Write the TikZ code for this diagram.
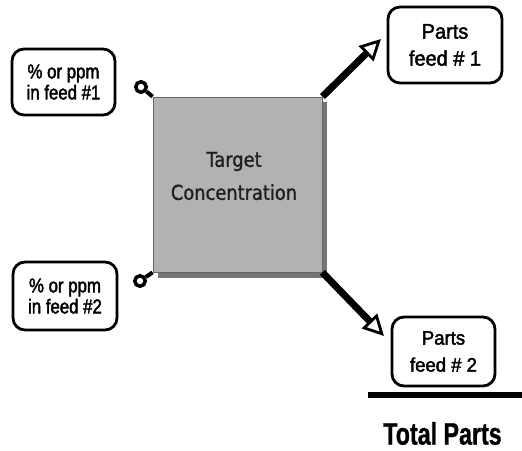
\documentclass[tikz,border=0pt]{standalone}
\usepackage{fontspec}
\setmainfont{Liberation Sans}
\newfontfamily\boxfont[FakeStretch=0.84,FakeBold=2]{Liberation Sans}
\newfontfamily\partsfont[FakeStretch=0.95,FakeBold=2]{Liberation Sans}
\newfontfamily\totalfont[FakeStretch=0.75,FakeBold=1]{Liberation Sans Bold}
\newfontfamily\handfont[FakeStretch=0.87,FakeBold=1]{DejaVu Sans}
\usetikzlibrary{arrows.meta}
\definecolor{sqfill}{RGB}{178,178,178}
\definecolor{sqshadow}{RGB}{118,118,118}
\definecolor{handtext}{RGB}{30,30,30}
\tikzset{
  labelbox/.style={draw=black, line width=2.8pt, rounded corners=12pt, fill=white,
    inner sep=0pt, align=center},
  flowarrow/.style={line width=7pt,
    -{Triangle[line width=2.8pt, fill=white, length=21pt, width=21pt]}},
  pin/.style={circle, draw=black, line width=3.5pt, fill=white, inner sep=0pt,
    minimum size=10.5pt},
  pinline/.style={line width=4pt},
}
\begin{document}
\begin{tikzpicture}[x=1pt,y=-1pt]
\useasboundingbox (0,0) rectangle (522,450);
% shadow and square
\fill[sqshadow] (158,102) rectangle (327,278);
\node[draw=black!60, line width=0.8pt, fill=sqfill, minimum width=169pt, minimum height=175pt,
  inner sep=0pt] (sq) at (237.5,184.5) {};
\node[font=\handfont\fontsize{20.5}{33}\selectfont, text=handtext, align=center] (tc)
  at (234,176) {Target\\Concentration};
% input boxes
\node[labelbox, minimum width=103pt, minimum height=66pt,
  font=\boxfont\fontsize{20}{21}\selectfont] (in1) at (63.5,82) {\% or ppm\\in feed \#1};
\node[labelbox, minimum width=104pt, minimum height=68pt,
  font=\boxfont\fontsize{20}{21}\selectfont] (in2) at (65,296) {\% or ppm\\in feed \#2};
% output boxes
\node[labelbox, minimum width=114pt, minimum height=76pt,
  font=\partsfont\fontsize{21}{27}\selectfont] (pf1) at (445,45) {Parts\\feed \# 1};
\node[labelbox, minimum width=103pt, minimum height=69pt,
  font=\partsfont\fontsize{19.5}{27}\selectfont] (pf2) at (443.5,351.5) {Parts\\feed \# 2};
% pins
\node[pin] (c1) at (141,87) {};
\node[pin] (c2) at (140,281) {};
\draw[pinline] (c1) -- (sq.north west);
\draw[pinline] (c2) -- (sq.south west);
% arrows
\coordinate (t1) at (381,39);
\coordinate (t2) at (384,336);
\draw[flowarrow] (sq.north east) -- (t1);
\draw[flowarrow] (sq.south east) -- (t2);
% total line
\coordinate (l1) at (368,395);
\coordinate (l2) at (522,395);
\draw[line width=6.5pt] (l1) -- (l2);
\node[font=\totalfont\fontsize{31}{32}\selectfont] (tot) at (442.5,433.5) {Total Parts};
\end{tikzpicture}
\end{document}
